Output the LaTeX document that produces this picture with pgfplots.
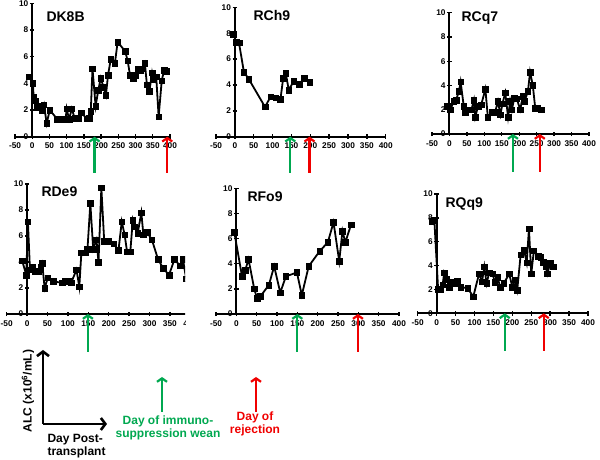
\documentclass[border=0pt]{standalone}
\usepackage{pgfplots}
\pgfplotsset{compat=1.18}
\usepackage{fontspec}
\setmainfont{Liberation Sans}
\usetikzlibrary{arrows.meta}
\definecolor{grn}{RGB}{0,168,80}
\definecolor{rd}{RGB}{240,0,0}
\pgfplotsset{panel/.style={
  scale only axis, axis lines=middle, axis line style={-, line width=2pt},
  xmin=-50, xmax=400, ymin=0, ymax=10, enlargelimits=false,
  xtick={-50,0,50,100,150,200,250,300,350,400},
  ytick={0,2,4,6,8,10},
  xticklabels={-50,0,50,100,150,200,250,300,350,400},
  yticklabels={0,2,4,6,8,10},
  hide obscured x ticks=false, hide obscured y ticks=false,
  major tick length=4.5pt, tick align=center,
  tick style={line width=1.4pt, black},
  tick label style={font=\bfseries\fontsize{8.3}{9}\selectfont, inner sep=1.5pt},
  xticklabel style={yshift=-2.5pt},
  clip=false,
}}
\tikzset{garr/.style={grn, line width=2.2pt, {Straight Barb[length=3.5pt,width=10pt]}-},
         rarr/.style={rd, line width=2.2pt, {Straight Barb[length=3.5pt,width=10pt]}-},
         ttl/.style={anchor=base west, font=\bfseries\fontsize{14}{16}\selectfont},
         leg/.style={anchor=base, font=\bfseries\fontsize{12}{14}\selectfont},
         dat/.style={black, line width=1.8pt, mark=square*, mark size=2.8pt, mark options={solid, fill=black, line width=0.5pt}}}
\begin{document}
\begin{tikzpicture}
\path[use as bounding box] (0pt,0pt) rectangle (600pt,460pt);
% ---------- Panel 1: DK8B
\begin{axis}[panel, at={(15pt,323.3pt)}, anchor=south west, width=155pt, height=133.4pt]
\addplot[dat] coordinates {(-10,4.5) (2,4.0) (4,3.0) (8,2.7) (15,2.2) (22,2.3) (29,2.0) (34,2.4) (42,1.0) (51,2.0) (73,1.3) (83,1.3) (97,1.3) (100,2.1) (107,1.3) (115,2.1) (123,1.4) (134,1.4) (143,1.8) (158,1.35) (165,1.4) (170,1.9) (175,5.1) (184,2.3) (192,3.5) (199,4.4) (207,3.7) (214,3.1) (220,4.6) (228,5.8) (240,5.5) (248,7.1) (270,6.4) (277,5.7) (284,4.6) (293,4.4) (301,4.6) (306,5.1) (314,5.0) (320,5.1) (327,5.5) (333,3.9) (340,3.4) (348,4.8) (352,4.3) (360,4.5) (367,1.5) (376,4.2) (383,5.0) (391,4.9)};
\coordinate (g1) at (axis cs:181,0);
\coordinate (r1) at (axis cs:392,0);
\end{axis}
\draw[garr] (g1) -- ++(0pt,-36pt);
\draw[rarr] (r1) -- ++(0pt,-36pt);
\node[ttl] at (43pt,438pt) {DK8B};
% ---------- Panel 2: RCh9
\begin{axis}[panel, at={(216pt,323.3pt)}, anchor=south west, width=169.7pt, height=129.4pt]
\addplot[dat] coordinates {(-4,7.9) (4,7.3) (11,7.25) (24,5.0) (37,4.45) (80,2.3) (95,3.1) (108,3.0) (121,2.9) (128,4.5) (135,4.9) (143,3.6) (156,4.3) (170,4.05) (184,4.5) (199,4.2)};
\coordinate (g2) at (axis cs:147,0);
\coordinate (r2) at (axis cs:198,0);
\end{axis}
\draw[garr] (g2) -- ++(0pt,-36pt);
\draw[rarr] (r2) -- ++(0pt,-36pt);
\node[ttl] at (250pt,439pt) {RCh9};
% ---------- Panel 3: RCq7
\begin{axis}[panel, at={(432pt,326pt)}, anchor=south west, width=157pt, height=121.3pt]
\addplot[dat] coordinates {(-7,2.3) (3,2.0) (12,2.7) (19,2.8) (27,3.5) (32,4.3) (41,2.3) (46,1.8) (55,2.0) (63,2.0) (70,2.8) (74,1.4) (82,2.3) (91,2.4) (103,3.7) (110,1.4) (122,1.8) (131,1.8) (139,2.7) (146,1.6) (152,2.5) (160,3.4) (168,1.4) (174,2.7) (179,2.0) (186,3.0) (193,2.9) (203,2.0) (210,3.1) (215,2.7) (225,3.5) (231,5.1) (239,4.0) (246,2.1) (253,2.1) (263,2.0)};
\coordinate (g3) at (axis cs:182,0);
\coordinate (r3) at (axis cs:259,0);
\end{axis}
\draw[garr] (g3) -- ++(0pt,-38pt);
\draw[rarr] (r3) -- ++(0pt,-38pt);
\node[ttl] at (458pt,438pt) {RCq7};
% ---------- Panel 4: RDe9 (cut at right edge)
\begin{scope}
\clip (0pt,0pt) rectangle (185pt,300pt);
\begin{axis}[panel, at={(6.7pt,146pt)}, anchor=south west, width=183.6pt, height=130pt]
\addplot[dat] coordinates {(-12,4.1) (-2,3.0) (2,7.1) (7,3.4) (14,3.6) (20,3.3) (29,3.3) (33,3.6) (37,3.9) (43,2.0) (51,2.8) (64,2.5) (86,2.4) (94,2.5) (102,2.5) (108,2.4) (121,3.4) (128,2.1) (133,4.7) (143,4.7) (148,5.0) (155,8.5) (162,5.0) (170,5.7) (175,4.0) (182,9.7) (189,5.6) (200,5.6) (212,5.4) (224,4.9) (232,7.1) (239,6.1) (245,4.8) (253,4.8) (259,7.2) (263,6.7) (271,6.2) (280,7.8) (285,6.1) (294,6.3) (306,5.7) (321,4.2) (334,3.5) (348,3.0) (361,4.2) (375,3.7) (382,4.2) (390,2.7)};
\coordinate (g4) at (axis cs:149,0);
\end{axis}
\draw[garr] (g4) -- ++(0pt,-38pt);
\end{scope}
\node[ttl] at (38pt,263pt) {RDe9};
% ---------- Panel 5: RFo9
\begin{axis}[panel, at={(216pt,146pt)}, anchor=south west, width=183pt, height=125.7pt]
\addplot[dat] coordinates {(-5,6.5) (14,3.0) (22,3.5) (30,4.35) (44,2.0) (51,1.25) (59,1.4) (80,2.3) (93,3.8) (108,1.7) (122,3.0) (149,3.3) (161,1.5) (178,3.8) (205,5.0) (225,5.7) (239,7.3) (253,4.2) (261,6.6) (268,5.7) (282,7.1)};
\coordinate (g5) at (axis cs:150,0);
\coordinate (r5) at (axis cs:299,0);
\end{axis}
\draw[garr] (g5) -- ++(0pt,-38pt);
\draw[rarr] (r5) -- ++(0pt,-38pt);
\node[ttl] at (244pt,258pt) {RFo9};
% ---------- Panel 6: RQq9
\begin{axis}[panel, at={(417.7pt,146.7pt)}, anchor=south west, width=170.3pt, height=119.3pt]
\addplot[dat] coordinates {(-13,7.7) (-6,7.8) (4,2.0) (11,2.0) (16,2.4) (20,3.4) (27,2.85) (33,2.2) (40,2.6) (47,2.5) (55,2.7) (64,2.2) (82,2.1) (97,1.4) (112,3.3) (120,2.65) (126,3.9) (132,2.5) (139,3.4) (148,3.3) (154,2.6) (161,3.0) (168,2.2) (177,2.5) (192,3.3) (200,2.2) (207,2.8) (213,1.95) (222,4.9) (231,5.3) (238,4.25) (244,7.1) (250,3.3) (257,5.25) (268,4.8) (275,4.7) (281,4.3) (288,3.9) (293,3.3) (300,4.25) (308,3.9)};
\coordinate (g6) at (axis cs:180,0);
\coordinate (r6) at (axis cs:283,0);
\end{axis}
\draw[garr] (g6) -- ++(0pt,-38pt);
\draw[rarr] (r6) -- ++(0pt,-38pt);
\node[ttl] at (442pt,252pt) {RQq9};
% ---------- Key
\draw[line width=2.6pt, -{Straight Barb[length=4.5pt,width=12pt]}] (43pt,36pt) -- (43pt,110pt);
\draw[line width=2.6pt, -{Straight Barb[length=4.5pt,width=12pt]}] (43pt,36pt) -- (107pt,36pt);
\node[rotate=90, font=\bfseries\fontsize{12}{14}\selectfont] at (28pt,69pt) {ALC (x10\textsuperscript{6}/mL)};
\node[anchor=base west, font=\bfseries\fontsize{12}{14}\selectfont] at (44pt,17pt) {Day Post-};
\node[anchor=base west, font=\bfseries\fontsize{12}{14}\selectfont] at (44pt,4pt) {transplant};
\draw[garr] (162pt,83pt) -- (162pt,48pt);
\node[leg, text=grn] at (168pt,35pt) {Day of immuno-};
\node[leg, text=grn] at (168pt,22pt) {suppression wean};
\draw[rarr] (256pt,83pt) -- (256pt,48pt);
\node[leg, text=rd] at (255pt,39pt) {Day of};
\node[leg, text=rd] at (255pt,26pt) {rejection};
\end{tikzpicture}
\end{document}
